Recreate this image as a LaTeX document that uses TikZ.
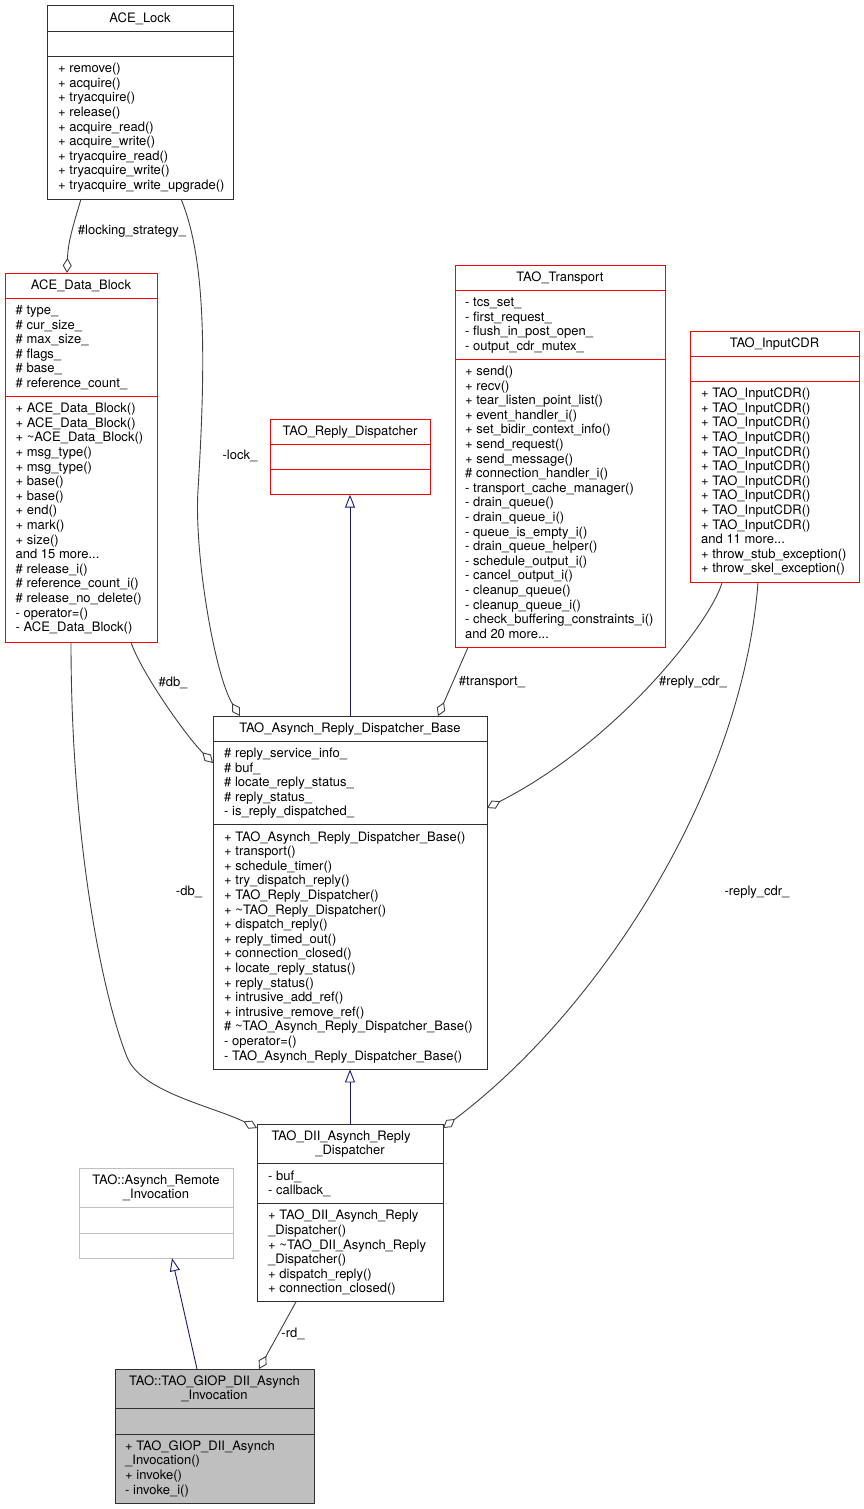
\documentclass[tikz,border=0pt]{standalone}
\usepackage{fontspec}
\setmainfont{TeX Gyre Heros}
\usetikzlibrary{arrows.meta}
\definecolor{edgegray}{HTML}{404040}
\definecolor{inhblue}{HTML}{191970}
\definecolor{incred}{HTML}{FF0000}
\definecolor{lgray}{HTML}{BFBFBF}
\definecolor{boxline}{HTML}{303030}
\newcommand\fs{\rule{0pt}{11pt}}
\newcommand\tl{\textasciitilde}
\newcommand\clsbox[6]{\node[box=#6, minimum width=#4pt, minimum height=#5pt] (#1) at (#2,#3) {};}
\newcommand\clssep[3]{\draw[line width=1pt, #3] ([yshift=-#2pt]#1.north west) -- ([yshift=-#2pt]#1.north east);}
\tikzset{
  box/.style={draw=#1, fill=white, line width=1pt, inner sep=0pt, outer sep=0pt, anchor=north west},
  txt/.style={inner sep=0pt, anchor=north west, align=left, font=\fontsize{13}{14.6}\selectfont},
  ttl/.style={inner sep=0pt, anchor=north, align=center, font=\fontsize{13}{14.6}\selectfont},
  lbl/.style={inner sep=0pt, anchor=center, font=\fontsize{13}{14.6}\selectfont},
  agg/.style={draw=edgegray, line width=0.9pt, -{Diamond[open, length=15pt, width=9pt]}},
  inh/.style={draw=inhblue, line width=0.9pt, -{Triangle[open, length=13pt, width=10pt]}}
}
\begin{document}
\begin{tikzpicture}[x=1pt,y=-1pt]
\useasboundingbox (0,0) rectangle (864,1509);

% ---------- ACE_Lock ----------
\clsbox{lock}{47}{6}{186}{193}{boxline}
\clssep{lock}{25.2}{boxline}
\clssep{lock}{50.4}{boxline}
\node[ttl] (lockT) at (140,11) {\fs ACE\_Lock};
\node[txt] (lockM) at (58,61.4) {\fs+ remove()\\+ acquire()\\+ tryacquire()\\+ release()\\+ acquire\_read()\\+ acquire\_write()\\+ tryacquire\_read()\\+ tryacquire\_write()\\+ tryacquire\_write\_upgrade()};

% ---------- ACE_Data_Block ----------
\clsbox{adb}{5}{273}{152}{369.2}{incred}
\clssep{adb}{25.2}{incred}
\clssep{adb}{123.4}{incred}
\node[ttl] (adbT) at (81,278) {\fs ACE\_Data\_Block};
\node[txt] (adbA) at (15.5,303.2) {\fs\# type\_\\\# cur\_size\_\\\# max\_size\_\\\# flags\_\\\# base\_\\\# reference\_count\_};
\node[txt] (adbM) at (15.5,401.4) {\fs+ ACE\_Data\_Block()\\+ ACE\_Data\_Block()\\+ \tl ACE\_Data\_Block()\\+ msg\_type()\\+ msg\_type()\\+ base()\\+ base()\\+ end()\\+ mark()\\+ size()\\and 15 more...\\\# release\_i()\\\# reference\_count\_i()\\\# release\_no\_delete()\\- operator=()\\- ACE\_Data\_Block()};

% ---------- TAO_Reply_Dispatcher ----------
\clsbox{trd}{270}{419}{160}{75.6}{incred}
\clssep{trd}{25.2}{incred}
\clssep{trd}{50.4}{incred}
\node[ttl] (trdT) at (350,424) {\fs TAO\_Reply\_Dispatcher};

% ---------- TAO_Transport ----------
\clsbox{trans}{455}{265}{210}{382.4}{incred}
\clssep{trans}{25.2}{incred}
\clssep{trans}{94.2}{incred}
\node[ttl] (transT) at (560,270) {\fs TAO\_Transport};
\node[txt] (transA) at (465,295.2) {\fs- tcs\_set\_\\- first\_request\_\\- flush\_in\_post\_open\_\\- output\_cdr\_mutex\_};
\node[txt] (transM) at (465,364.2) {\fs+ send()\\+ recv()\\+ tear\_listen\_point\_list()\\+ event\_handler\_i()\\+ set\_bidir\_context\_info()\\+ send\_request()\\+ send\_message()\\\# connection\_handler\_i()\\- transport\_cache\_manager()\\- drain\_queue()\\- drain\_queue\_i()\\- queue\_is\_empty\_i()\\- drain\_queue\_helper()\\- schedule\_output\_i()\\- cancel\_output\_i()\\- cleanup\_queue()\\- cleanup\_queue\_i()\\- check\_buffering\_constraints\_i()\\and 20 more...};

% ---------- TAO_InputCDR ----------
\clsbox{cdr}{690}{331}{169}{251.6}{incred}
\clssep{cdr}{25.2}{incred}
\clssep{cdr}{50.4}{incred}
\node[ttl] (cdrT) at (774.5,336) {\fs TAO\_InputCDR};
\node[txt] (cdrM) at (701,386.4) {\fs+ TAO\_InputCDR()\\+ TAO\_InputCDR()\\+ TAO\_InputCDR()\\+ TAO\_InputCDR()\\+ TAO\_InputCDR()\\+ TAO\_InputCDR()\\+ TAO\_InputCDR()\\+ TAO\_InputCDR()\\+ TAO\_InputCDR()\\+ TAO\_InputCDR()\\and 11 more...\\+ throw\_stub\_exception()\\+ throw\_skel\_exception()};

% ---------- TAO_Asynch_Reply_Dispatcher_Base ----------
\clsbox{base}{213}{716}{274}{353.4}{boxline}
\clssep{base}{25.2}{boxline}
\clssep{base}{108.8}{boxline}
\node[ttl] (baseT) at (350,721) {\fs TAO\_Asynch\_Reply\_Dispatcher\_Base};
\node[txt] (baseA) at (224,746.2) {\fs\# reply\_service\_info\_\\\# buf\_\\\# locate\_reply\_status\_\\\# reply\_status\_\\- is\_reply\_dispatched\_};
\node[txt] (baseM) at (224,829.8) {\fs+ TAO\_Asynch\_Reply\_Dispatcher\_Base()\\+ transport()\\+ schedule\_timer()\\+ try\_dispatch\_reply()\\+ TAO\_Reply\_Dispatcher()\\+ \tl TAO\_Reply\_Dispatcher()\\+ dispatch\_reply()\\+ reply\_timed\_out()\\+ connection\_closed()\\+ locate\_reply\_status()\\+ reply\_status()\\+ intrusive\_add\_ref()\\+ intrusive\_remove\_ref()\\\# \tl TAO\_Asynch\_Reply\_Dispatcher\_Base()\\- operator=()\\- TAO\_Asynch\_Reply\_Dispatcher\_Base()};

% ---------- TAO_DII_Asynch_Reply_Dispatcher ----------
\clsbox{dii}{257}{1124}{186}{177.8}{boxline}
\clssep{dii}{39.8}{boxline}
\clssep{dii}{79.6}{boxline}
\node[ttl] (diiT) at (350,1129) {\fs TAO\_DII\_Asynch\_Reply\hspace*{18pt}\\\_Dispatcher};
\node[txt] (diiA) at (268,1168.8) {\fs- buf\_\\- callback\_};
\node[txt] (diiM) at (268,1208.6) {\fs+ TAO\_DII\_Asynch\_Reply\\\_Dispatcher()\\+ \tl TAO\_DII\_Asynch\_Reply\\\_Dispatcher()\\+ dispatch\_reply()\\+ connection\_closed()};

% ---------- TAO::Asynch_Remote_Invocation ----------
\clsbox{ari}{79}{1168}{154}{90.2}{lgray}
\clssep{ari}{39.8}{lgray}
\clssep{ari}{65}{lgray}
\node[ttl] (ariT) at (156,1173) {\fs TAO::Asynch\_Remote\\\_Invocation};

% ---------- TAO::TAO_GIOP_DII_Asynch_Invocation ----------
\node[box=boxline, fill=lgray, minimum width=199pt, minimum height=134pt] (giop) at (115,1369) {};
\clssep{giop}{39.8}{boxline}
\clssep{giop}{65}{boxline}
\node[ttl] (giopT) at (214.5,1374) {\fs TAO::TAO\_GIOP\_DII\_Asynch\\\_Invocation};
\node[txt] (giopM) at (125,1439) {\fs+ TAO\_GIOP\_DII\_Asynch\\\_Invocation()\\+ invoke()\\- invoke\_i()};

% ---------- connectors ----------
\coordinate (lockbend) at (198,490);
\coordinate (dbbend) at (127,1057);

\draw[agg] ([xshift=34pt]lock.south west) .. controls +(-6,21) and +(1,-33) .. ([xshift=62pt]adb.north west);
\node[lbl] (l1) at (132,231) {\#locking\_strategy\_};

\draw[agg] ([xshift=134pt]lock.south west) .. controls +(25,60) and +(8,-130) .. (lockbend) .. controls +(-4,65) and +(-25,-40) .. ([xshift=27pt]base.north west);
\node[lbl] (l2) at (240,456) {-lock\_};

\draw[agg] ([xshift=126pt]adb.south west) .. controls +(9,28) and +(-28,-28) .. ([yshift=-47pt]base.north west);
\node[lbl] (l3) at (173,683) {\#db\_};

\draw[agg] ([xshift=13pt]trans.south west) -- ([xshift=225pt]base.north west);
\node[lbl] (l4) at (492,682) {\#transport\_};

\draw[agg] ([xshift=32pt]cdr.south west) .. controls +(-10,37) and +(133,-68) .. ([yshift=-92pt]base.north east);
\node[lbl] (l5) at (693,682) {\#reply\_cdr\_};

\draw[inh] (base.north) -- (trd.south);
\draw[inh] (dii.north) -- (base.south);

\draw[agg] ([xshift=66pt]adb.south west) .. controls +(0,200) and +(-24,-60) .. (dbbend) .. controls +(14,35) and +(-45,-22) .. ([yshift=-4pt]dii.north west);
\node[lbl] (l6) at (189,892) {-db\_};

\draw[agg] ([xshift=68pt]cdr.south west) .. controls +(-16,207) and +(157,-118) .. ([yshift=-4pt]dii.north east);
\node[lbl] (l7) at (757,892) {-reply\_cdr\_};

\draw[inh] ([xshift=82pt]giop.north west) -- ([xshift=93pt]ari.south west);

\draw[agg] ([xshift=39pt]dii.south west) -- ([xshift=144pt]giop.north west);
\node[lbl] (l8) at (293,1334) {-rd\_};
\end{tikzpicture}
\end{document}
